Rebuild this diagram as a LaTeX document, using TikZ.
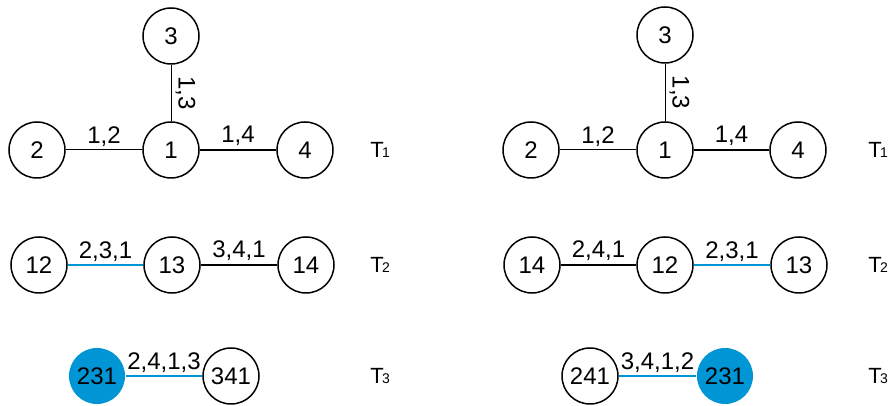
\documentclass[tikz,border=0pt]{standalone}
\usepackage{fontspec}
\setmainfont{Liberation Sans}
\usetikzlibrary{positioning}
\definecolor{hiblue}{RGB}{0,150,214}

\begin{document}
\begin{tikzpicture}[x=0.5pt,y=-0.5pt,
  vert/.style={draw,circle,line width=0.75pt,minimum size=28pt,inner sep=0pt,
    font=\fontsize{12}{14}\selectfont},
  root/.style={vert,draw=none,fill=hiblue},
  thin/.style={line width=0.5pt},
  thk/.style={line width=1pt},
  hl/.style={line width=0.75pt,draw=hiblue},
  lab/.style={midway,above,inner sep=1.5pt,font=\fontsize{12}{14}\selectfont},
  tree/.style={anchor=west,inner sep=0pt,font=\fontsize{11}{13}\selectfont}
]
\useasboundingbox (0,0) rectangle (891,406);
% left panel
\node[vert] (a3) at (171,36) {3};
\node[vert] (a1) at (171,150) {1};
\node[vert] (a2) at (37,150) {2};
\node[vert] (a4) at (305,150) {4};
\node[tree] (at1) at (370,150) {T\kern-0.8pt{\scriptsize 1}};
\draw[thin] (a3) -- (a1) node[midway,rotate=-90,anchor=south,inner sep=2pt,
  font=\fontsize{12}{14}\selectfont] {1,3};
\draw[thin] (a2) -- (a1) node[lab] {1,2};
\draw[thk] (a1) -- (a4) node[lab] {1,4};
\node[vert] (a12) at (39,265) {12};
\node[vert] (a13) at (172,265) {13};
\node[vert] (a14) at (306,265) {14};
\node[tree] (at2) at (370,265) {T\kern-0.8pt{\scriptsize 2}};
\draw[hl] (a12) -- (a13) node[lab] {2,3,1};
\draw[thk] (a13) -- (a14) node[lab] {3,4,1};
\node[root] (a231) at (97,376) {231};
\node[vert] (a341) at (231,376) {341};
\node[tree] (at3) at (370,376) {T\kern-0.8pt{\scriptsize 3}};
\draw[hl] (a231) -- (a341) node[lab] {2,4,1,3};
% right panel
\node[vert] (b3) at (665,35) {3};
\node[vert] (b1) at (665,150) {1};
\node[vert] (b2) at (531,150) {2};
\node[vert] (b4) at (798,150) {4};
\node[tree] (bt1) at (868,150) {T\kern-0.8pt{\scriptsize 1}};
\draw[thin] (b3) -- (b1) node[midway,rotate=-90,anchor=south,inner sep=2pt,
  font=\fontsize{12}{14}\selectfont] {1,3};
\draw[thin] (b2) -- (b1) node[lab] {1,2};
\draw[thk] (b1) -- (b4) node[lab] {1,4};
\node[vert] (b14) at (532,265) {14};
\node[vert] (b12) at (665,265) {12};
\node[vert] (b13) at (799,265) {13};
\node[tree] (bt2) at (868,265) {T\kern-0.8pt{\scriptsize 2}};
\draw[thk] (b14) -- (b12) node[lab] {2,4,1};
\draw[hl] (b12) -- (b13) node[lab] {2,3,1};
\node[vert] (b241) at (590,376) {241};
\node[root] (b231) at (725,376) {231};
\node[tree] (bt3) at (868,376) {T\kern-0.8pt{\scriptsize 3}};
\draw[hl] (b241) -- (b231) node[lab] {3,4,1,2};
\end{tikzpicture}
\end{document}
